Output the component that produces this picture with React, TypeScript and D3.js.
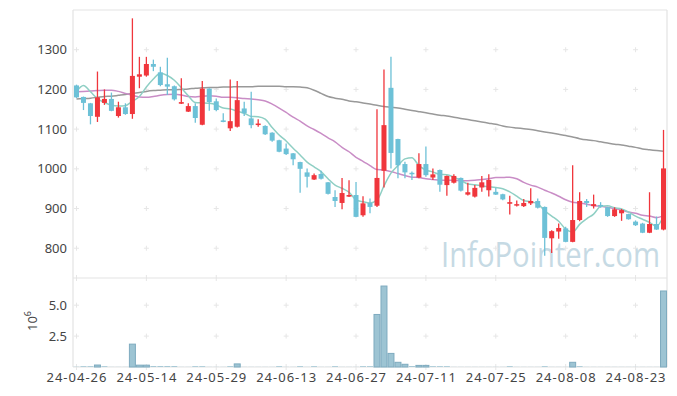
import React from 'react';
import * as d3 from 'd3';

const dates = [
  '24-04-26','24-04-29','24-04-30','24-05-02','24-05-03','24-05-07','24-05-08','24-05-09','24-05-10','24-05-13',
  '24-05-14','24-05-16','24-05-17','24-05-20','24-05-21','24-05-22','24-05-23','24-05-24','24-05-27','24-05-28',
  '24-05-29','24-05-30','24-05-31','24-06-03','24-06-04','24-06-05','24-06-07','24-06-10','24-06-11','24-06-12',
  '24-06-13','24-06-14','24-06-17','24-06-18','24-06-19','24-06-20','24-06-21','24-06-24','24-06-25','24-06-26',
  '24-06-27','24-06-28','24-07-01','24-07-02','24-07-03','24-07-04','24-07-05','24-07-08','24-07-09','24-07-10',
  '24-07-11','24-07-12','24-07-15','24-07-16','24-07-17','24-07-18','24-07-19','24-07-22','24-07-23','24-07-24',
  '24-07-25','24-07-26','24-07-29','24-07-30','24-07-31','24-08-01','24-08-02','24-08-05','24-08-06','24-08-07',
  '24-08-08','24-08-09','24-08-12','24-08-13','24-08-14','24-08-16','24-08-19','24-08-20','24-08-21','24-08-22',
  '24-08-23','24-08-26','24-08-27','24-08-28','24-08-29'
];

const opens = [
  1210,1181,1165,1131,1166,1176,1133,1155,1138,1232,
  1235,1264,1243,1213,1208,1164,1144,1158,1111,1202,
  1170,1122,1102,1106,1152,1127,1111,1108,1091,1072,
  1051,1039,1017,991,973,987,966,929,914,930,
  934,883,914,907,995,1204,1075,1012,990,978,
  1012,978,997,959,965,977,935,930,953,946,
  942,936,912,908,906,913,919,904,825,842,
  850,816,871,919,906,909,903,881,888,886,
  867,862,839,861,847
];
const highs = [
  1212,1182,1166,1245,1200,1192,1169,1165,1379,1282,
  1282,1275,1257,1280,1210,1228,1165,1165,1221,1203,
  1177,1140,1225,1221,1169,1194,1125,1110,1092,1073,
  1064,1040,1018,1001,988,995,967,946,977,971,
  967,931,925,1150,1250,1282,1076,1018,993,1039,
  1056,1001,998,983,986,978,965,959,982,986,
  952,937,932,920,924,951,925,905,845,862,
  854,1009,941,924,935,916,904,903,899,887,
  870,864,941,880,1098
];
const lows = [
  1178,1148,1112,1118,1161,1145,1129,1136,1126,1203,
  1232,1246,1208,1186,1172,1163,1143,1116,1110,1146,
  1145,1117,1095,1104,1133,1102,1106,1085,1068,1042,
  1035,1009,940,953,972,973,935,904,898,929,
  878,879,888,904,953,1001,976,976,972,976,
  980,972,942,932,963,943,933,928,942,930,
  934,921,885,905,904,909,900,781,788,824,
  815,815,868,904,900,902,879,879,869,872,
  856,838,838,846,845
];
const closes = [
  1180,1166,1133,1180,1176,1146,1155,1138,1234,1238,
  1264,1257,1211,1207,1175,1168,1158,1128,1202,1168,
  1148,1118,1120,1173,1140,1110,1114,1087,1071,1043,
  1037,1024,1000,980,984,975,937,919,939,934,
  879,913,904,977,1110,1040,1009,991,988,1012,
  984,986,960,982,982,945,941,952,966,972,
  935,923,916,911,914,919,902,826,843,851,
  816,871,919,914,911,908,881,898,896,873,
  858,839,861,847,1001
];

// volume in millions of shares
const volumes = [
  0.02,0.06,0.06,0.16,0.06,0.01,0.01,0.01,1.85,0.15,
  0.15,0.07,0.07,0.07,0.07,0.01,0.01,0.06,0.06,0.01,
  0.01,0.01,0.06,0.25,0.01,0.01,0.01,0.01,0.01,0.06,
  0.01,0.01,0.06,0.01,0.06,0.01,0.01,0.06,0.01,0.01,
  0.01,0.06,0.06,4.25,6.55,1.10,0.38,0.22,0.07,0.13,
  0.13,0.06,0.06,0.06,0.01,0.01,0.01,0.01,0.01,0.01,
  0.01,0.01,0.06,0.01,0.01,0.01,0.01,0.06,0.01,0.01,
  0.01,0.38,0.06,0.01,0.01,0.01,0.01,0.01,0.01,0.01,
  0.01,0.01,0.01,0.01,6.15
];

const ma5 = [
  1195,1210,1194,1177,1167,1160,1158,1159,1170,1182,
  1206,1226,1241,1235,1223,1204,1184,1167,1166,1165,
  1161,1153,1151,1145,1140,1132,1131,1125,1104,1085,
  1070,1052,1035,1017,1005,993,975,959,951,941,
  922,917,914,921,957,989,1008,1025,1028,1008,
  997,992,986,985,979,971,962,960,957,955,
  953,950,942,931,920,917,912,894,881,868,
  848,841,860,874,886,905,907,902,899,891,
  881,873,865,855,881
];
const ma20 = [
  1194,1195,1196,1197,1198,1198,1195,1190,1185,1181,
  1180,1182,1185,1187,1188,1186,1182,1181,1183,1184,
  1183,1180,1180,1179,1177,1176,1174,1171,1163,1153,
  1142,1130,1120,1108,1099,1089,1078,1068,1054,1043,
  1029,1019,1008,998,997,993,988,983,979,978,
  975,973,971,971,971,970,970,971,973,975,
  978,978,979,975,966,959,954,946,939,931,
  922,916,914,911,907,906,903,900,896,891,
  888,883,881,877,882
];
const ma120 = [
  1176,1177,1178,1180,1182,1183,1185,1187,1190,1192,
  1195,1197,1198,1199,1199,1200,1201,1203,1204,1205,
  1205,1206,1206,1207,1207,1207,1208,1208,1208,1208,
  1207,1207,1206,1204,1198,1190,1182,1178,1175,1171,
  1169,1166,1163,1160,1157,1155,1153,1150,1147,1144,
  1141,1138,1135,1133,1130,1127,1124,1121,1118,1115,
  1112,1108,1105,1103,1101,1099,1096,1093,1090,1087,
  1084,1080,1076,1073,1071,1068,1065,1062,1060,1057,
  1054,1050,1048,1046,1044
];

const priceTicks = [800, 900, 1000, 1100, 1200, 1300];
const volTicks = [2.5, 5.0];
const xTickDates = ['24-04-26','24-05-14','24-05-29','24-06-13','24-06-27','24-07-11','24-07-25','24-08-08','24-08-23'];

const UP = '#f0363c';
const DOWN = '#6dc1d7';
const FONT = '"Noto Sans", sans-serif';

export default function App() {
  const W = 677, H = 396;
  const left = 73, right = 667, top = 10, priceBottom = 278, volBottom = 367;

  const x = d3.scaleBand<string>().domain(dates).range([left, right]).padding(0);
  const bw = x.bandwidth();
  const cx = (d: string) => (x(d) as number) + bw / 2;
  const y = d3.scaleLinear().domain([725, 1400]).range([priceBottom, top]);
  const yv = d3.scaleLinear().domain([0, 7.2]).range([volBottom, priceBottom]);

  const lineGen = (vals: number[]) =>
    d3.line<number>()
      .x((_, i) => cx(dates[i]))
      .y((v) => y(v))
      .curve(d3.curveMonotoneX)(vals) || '';

  const bodyW = 5;
  const crossColor = '#e6e6e6';
  const cross = (px: number, py: number, key: string) => (
    <g key={key} stroke={crossColor} strokeWidth={1}>
      <line x1={px - 2.5} x2={px + 2.5} y1={py} y2={py} />
      <line x1={px} x2={px} y1={py - 2.5} y2={py + 2.5} />
    </g>
  );

  return (
    <svg width={W} height={H} style={{ position: 'absolute', left: 0, top: 0, background: '#fff' }} fontFamily={FONT}>
      <rect x={left} y={top} width={right - left} height={volBottom - top} fill="#fff" stroke="none" />
      {/* watermark */}
      <text x={441} y={267} fontFamily='"Open Sans", sans-serif' fontSize={34} fill="#c6dae4" textLength={219} lengthAdjust="spacingAndGlyphs">InfoPointer.com</text>

      {/* grid crosses */}
      {xTickDates.map((d) => priceTicks.map((t) => cross(cx(d), y(t), `p${d}${t}`)))}
      {xTickDates.map((d) => volTicks.map((t) => cross(cx(d), yv(t), `v${d}${t}`)))}
      {xTickDates.map((d) => (
        <g key={`bt${d}`} stroke={crossColor}>
          <line x1={cx(d)} x2={cx(d)} y1={priceBottom - 3} y2={priceBottom + 3} />
          <line x1={cx(d)} x2={cx(d)} y1={volBottom - 3} y2={volBottom + 3} />
        </g>
      ))}

      {/* borders */}
      <g stroke="#e3e3e3" strokeWidth={1.2} fill="none">
        <line x1={left} x2={right} y1={top} y2={top} />
        <line x1={left} x2={left} y1={top} y2={volBottom} />
        <line x1={right} x2={right} y1={top} y2={volBottom} />
        <line x1={left} x2={right} y1={priceBottom} y2={priceBottom} />
        <line x1={left} x2={right} y1={volBottom} y2={volBottom} />
      </g>

      {/* moving averages */}
      <path d={lineGen(ma120)} fill="none" stroke="#999999" strokeWidth={1.5} />
      <path d={lineGen(ma20)} fill="none" stroke="#c98dc6" strokeWidth={1.5} />
      <path d={lineGen(ma5)} fill="none" stroke="#8fcfc4" strokeWidth={1.5} />

      {/* candles */}
      {dates.map((d, i) => {
        const o = opens[i], c = closes[i], h = highs[i], l = lows[i];
        const up = c >= o;
        const col = up ? UP : DOWN;
        const yTop = y(Math.max(o, c));
        const yBot = y(Math.min(o, c));
        const xc = cx(d);
        return (
          <g key={d}>
            <line x1={xc} x2={xc} y1={y(h)} y2={y(l)} stroke={col} strokeWidth={1.3} />
            <rect x={xc - bodyW / 2} y={yTop} width={bodyW} height={Math.max(1.5, yBot - yTop)} fill={col} />
          </g>
        );
      })}

      {/* volume bars */}
      {dates.map((d, i) => {
        const yy = yv(volumes[i]);
        const hh = volBottom - yy;
        return (
          <rect key={`vol${d}`} x={(x(d) as number) + 0.5} y={yy} width={bw - 1} height={hh}
            fill="#9dc4d3" stroke={hh >= 1 ? '#7eabbf' : 'none'} strokeWidth={1} />
        );
      })}

      {/* price axis labels */}
      {priceTicks.map((t) => (
        <text key={`pl${t}`} x={67} y={y(t)} dy="0.35em" textAnchor="end" fontSize={13} fill="#444">{t}</text>
      ))}
      {volTicks.map((t) => (
        <text key={`vl${t}`} x={67} y={yv(t)} dy="0.35em" textAnchor="end" fontSize={13} fill="#444">{t.toFixed(1)}</text>
      ))}
      <text transform="translate(37,321) rotate(-90)" textAnchor="middle" fontSize={13} fill="#444">
        10<tspan dy={-6} fontSize={9}>6</tspan>
      </text>

      {/* x axis labels */}
      {xTickDates.map((d) => (
        <text key={`xl${d}`} x={cx(d)} y={382} textAnchor="middle" fontSize={13} fill="#444" textLength={60} lengthAdjust="spacing">{d}</text>
      ))}
    </svg>
  );
}
